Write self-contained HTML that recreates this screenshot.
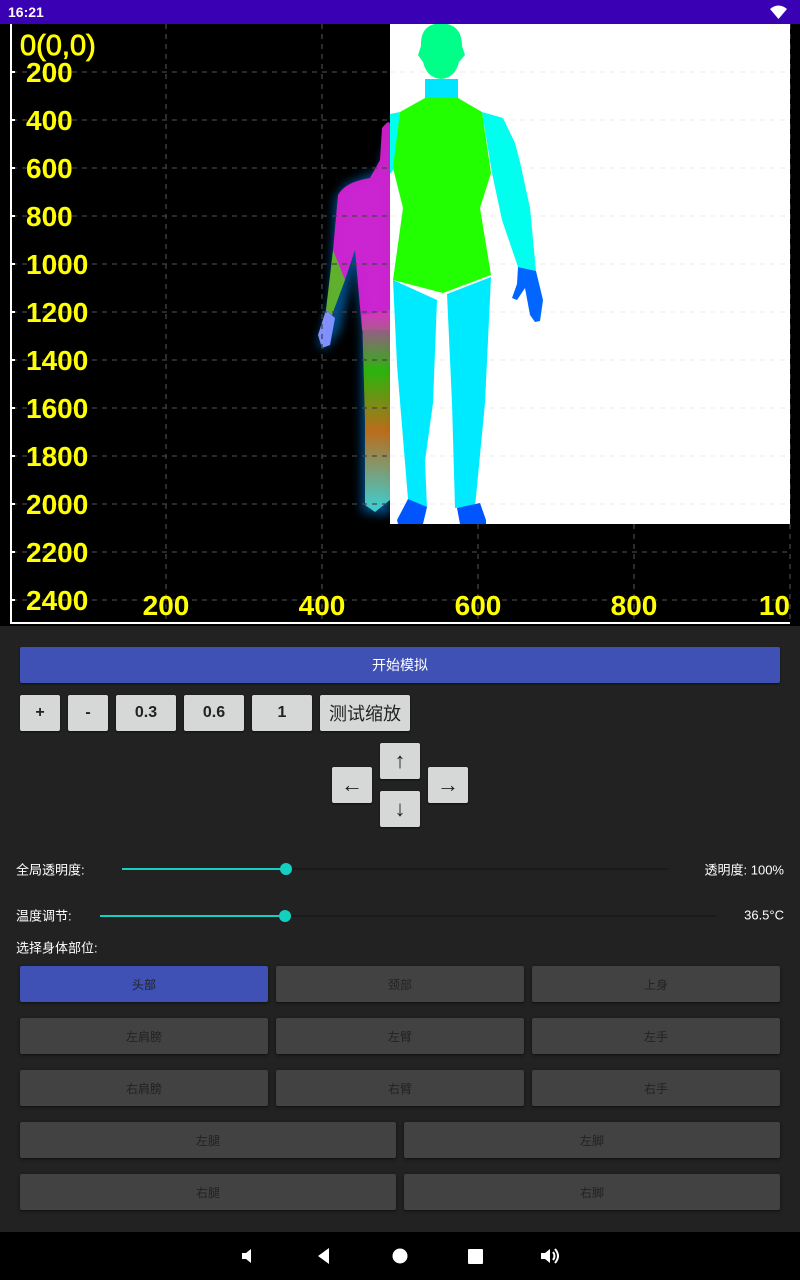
<!DOCTYPE html>
<html><head><meta charset="utf-8">
<style>
*{margin:0;padding:0;box-sizing:border-box}
body{width:800px;height:1280px;background:#222;position:relative;overflow:hidden;font-family:"Liberation Sans","Noto Sans CJK SC",sans-serif}
.abs{position:absolute}
.btn{position:absolute;background:#d6d7d7;color:#222;display:flex;align-items:center;justify-content:center;border-radius:2px;box-shadow:0 1px 2px rgba(0,0,0,.5);font-family:"Liberation Sans","Noto Sans CJK SC",sans-serif;font-weight:bold}
.part{position:absolute;background:#424242;color:#222;display:flex;align-items:center;justify-content:center;font-size:12px;border-radius:2px;box-shadow:0 1px 3px rgba(0,0,0,.6)}
.lbl{position:absolute;color:#fff;font-size:13px;transform:translateY(-50%)}
</style></head><body>
<div class="abs" style="left:0;top:0;width:800px;height:24px;background:#3a00b4">
  <span class="abs" style="left:8px;top:4px;color:#fff;font-size:14px;font-weight:bold">16:21</span>
  <svg class="abs" style="left:770px;top:5px" width="17" height="14" viewBox="0 0 17 14"><path d="M0 4 Q8.5 -3 17 4 L8.5 14Z" fill="#fff"/></svg>
</div>
<svg id="chart" class="abs" style="left:0;top:24px" width="800" height="602" viewBox="0 24 800 602">
  <defs>
    <clipPath id="cl"><rect x="0" y="24" width="791" height="602"/></clipPath>
    <filter id="glow" x="-50%" y="-20%" width="200%" height="140%"><feGaussianBlur stdDeviation="5"/></filter>
    <linearGradient id="legG" x1="0" y1="0" x2="0" y2="1"><stop offset="0" stop-color="#e030c8"/><stop offset=".3" stop-color="#30c000"/><stop offset=".6" stop-color="#d07010"/><stop offset="1" stop-color="#40e0e0"/></linearGradient>
  </defs>
  <rect x="0" y="24" width="800" height="602" fill="#000"/>
  <g id="figure-glow">
    <path d="M345 185 L380 170 L390 130 L390 515 L362 512 L362 330 L355 260 L340 330 L325 350 L318 345 L330 300 L335 200Z" fill="#0090ff" opacity=".55" filter="url(#glow)"/>
    <path d="M338 195 Q345 182 370 178 L380 160 L382 128 Q390 118 390 125 L390 330 L362 330 L355 250 L345 280 L338 285 L333 250Z" fill="#e020d8" opacity=".9"/>
    <path d="M333 250 L345 280 L332 315 L326 310Z" fill="#60b030"/>
    <path d="M326 310 L335 318 L330 345 L322 348 L318 335Z" fill="#8090ff"/>
    <path d="M362 315 L390 310 L390 500 L375 512 L365 505 L365 420Z" fill="url(#legG)" opacity=".9"/>
  </g>
  <g id="grid"></g>
  <g id="body">
    <rect x="390" y="24" width="400" height="500" fill="#fff"/>
    <g id="grid2" opacity=".06"></g>
    <path d="M441 23 Q462 24 462 46 L465 55 L459 62 Q455 78 441 79 Q427 78 423 62 L418 55 L421 46 Q420 24 441 23Z" fill="#00ff88"/>
    <rect x="425" y="79" width="33" height="20" fill="#00e5ff"/>
    <path d="M390 114 L400 112 L393 170 L390 174Z" fill="#00ffee"/>
    <path d="M482 112 L503 118 L515 143 L520 162 L530 208 L536 271 L518 267 L502 220 L492 173Z" fill="#00ffee"/>
    <path d="M518 267 L536 271 L543 300 L540 321 L535 322 L530 315 L525 288 L517 300 L512 298 L517 284Z" fill="#0066ff"/>
    <path d="M393 280 L437 300 L433 403 L425 461 L427 508 L408 499 L397 365Z" fill="#00eaff"/>
    <path d="M447 294 L491 277 L485 403 L475 507 L455 508 L452 403Z" fill="#00eaff"/>
    <path d="M400 112 L425 98 L458 98 L482 112 L491 173 L480 208 L491 275 L443 293 L393 280 L403 208 L393 168Z" fill="#22ff00"/>
    <path d="M408 499 L427 507 L423 524 L398 524 L397 520Z" fill="#0055ff"/>
    <path d="M457 508 L480 503 L486 520 L486 524 L460 524Z" fill="#0055ff"/>
  </g>
  <g id="axes"></g>
</svg>
<script>
const yTicks=[0,200,400,600,800,1000,1200,1400,1600,1800,2000,2200,2400];
const xTicks=[200,400,600,800,1000];
const xScale=v=>10+v*0.78;
const yScale=v=>24+v*0.24;
const NS='http://www.w3.org/2000/svg';
const grid=document.getElementById('grid'), grid2=document.getElementById('grid2'), axes=document.getElementById('axes');
function mk(tag,attrs,parent){const e=document.createElementNS(NS,tag);for(const k in attrs)e.setAttribute(k,attrs[k]);parent.appendChild(e);return e;}
yTicks.forEach(v=>{if(v===0)return;const y=yScale(v);
 const l=mk('line',{x1:12,x2:790,y1:y,y2:y,stroke:'#444','stroke-width':1.3,'stroke-dasharray':'5 5'},grid);
 
 
 const l2=mk('line',{x1:390,x2:790,y1:y,y2:y,stroke:'#000','stroke-width':1.3,'stroke-dasharray':'5 5'},grid2);
 
 
 const t=mk('line',{x1:11,x2:15,y1:y,y2:y,stroke:'#fff','stroke-width':2},axes);
 
 
 const tx=mk('text',{x:26,y:y+10,fill:'#ffff00','font-size':28,'font-weight':'bold','font-family':'Liberation Sans, sans-serif'},axes);
 tx.textContent=v;
 
 });
xTicks.forEach(v=>{const x=xScale(v);
 const l=mk('line',{x1:x,x2:x,y1:24,y2:622,stroke:'#444','stroke-width':1.3,'stroke-dasharray':'5 5'},grid);
 
 
 const g=mk('g',{'clip-path':'url(#cl)'},axes);
 const tx=mk('text',{x:x,y:615,fill:'#ffff00','font-size':28,'font-weight':'bold','text-anchor':'middle','font-family':'Liberation Sans, sans-serif'},g);
 tx.textContent=v;
 
 });
const ax=mk('path',{d:'M11 24 V623 H790',fill:'none',stroke:'#fff','stroke-width':2},axes);


const o=mk('text',{x:20,y:55,fill:'#ffff00','font-size':29,'font-family':'Liberation Sans, sans-serif','stroke':'#ffff00','stroke-width':0.8},axes);
o.textContent='0(0,0)';


</script>

<div class="btn" style="left:20px;top:647px;width:760px;height:36px;background:#3f51b5;color:#fff;font-weight:normal;font-size:14px">开始模拟</div>
<div class="btn" style="left:20px;top:695px;width:40px;height:36px;font-size:16px">+</div>
<div class="btn" style="left:68px;top:695px;width:40px;height:36px;font-size:16px">-</div>
<div class="btn" style="left:116px;top:695px;width:60px;height:36px;font-size:16px">0.3</div>
<div class="btn" style="left:184px;top:695px;width:60px;height:36px;font-size:16px">0.6</div>
<div class="btn" style="left:252px;top:695px;width:60px;height:36px;font-size:16px">1</div>
<div class="btn" style="left:320px;top:695px;width:90px;height:36px;font-size:18px;font-weight:normal">测试缩放</div>
<div class="btn" style="left:380px;top:743px;width:40px;height:36px;font-size:22px;font-weight:normal">↑</div>
<div class="btn" style="left:332px;top:767px;width:40px;height:36px;font-size:22px;font-weight:normal">←</div>
<div class="btn" style="left:428px;top:767px;width:40px;height:36px;font-size:22px;font-weight:normal">→</div>
<div class="btn" style="left:380px;top:791px;width:40px;height:36px;font-size:22px;font-weight:normal">↓</div>

<div class="lbl" style="left:16px;top:869px">全局透明度:</div>
<div class="abs" style="left:122px;top:868px;width:546px;height:2px;background:#1a1a1a"></div>
<div class="abs" style="left:122px;top:868px;width:164px;height:2px;background:#14d0c0"></div>
<div class="abs" style="left:280px;top:863px;width:12px;height:12px;border-radius:50%;background:#14d0c0"></div>
<div class="lbl" style="right:16px;top:869px">透明度: 100%</div>

<div class="lbl" style="left:16px;top:915px">温度调节:</div>
<div class="abs" style="left:100px;top:915px;width:616px;height:2px;background:#1a1a1a"></div>
<div class="abs" style="left:100px;top:915px;width:185px;height:2px;background:#14d0c0"></div>
<div class="abs" style="left:279px;top:910px;width:12px;height:12px;border-radius:50%;background:#14d0c0"></div>
<div class="lbl" style="right:16px;top:915px">36.5°C</div>

<div class="lbl" style="left:16px;top:947px">选择身体部位:</div>
<div class="part" style="left:20px;top:966px;width:248px;height:36px;background:#3f51b5">头部</div>
<div class="part" style="left:276px;top:966px;width:248px;height:36px">颈部</div>
<div class="part" style="left:532px;top:966px;width:248px;height:36px">上身</div>
<div class="part" style="left:20px;top:1018px;width:248px;height:36px">左肩膀</div>
<div class="part" style="left:276px;top:1018px;width:248px;height:36px">左臂</div>
<div class="part" style="left:532px;top:1018px;width:248px;height:36px">左手</div>
<div class="part" style="left:20px;top:1070px;width:248px;height:36px">右肩膀</div>
<div class="part" style="left:276px;top:1070px;width:248px;height:36px">右臂</div>
<div class="part" style="left:532px;top:1070px;width:248px;height:36px">右手</div>
<div class="part" style="left:20px;top:1122px;width:376px;height:36px">左腿</div>
<div class="part" style="left:404px;top:1122px;width:376px;height:36px">左脚</div>
<div class="part" style="left:20px;top:1174px;width:376px;height:36px">右腿</div>
<div class="part" style="left:404px;top:1174px;width:376px;height:36px">右脚</div>

<div class="abs" style="left:0;top:1232px;width:800px;height:48px;background:#000">
  <svg class="abs" style="left:240px;top:14px" width="20" height="20"><path d="M2 7h4l5-4v14l-5-4H2z" fill="#fff"/></svg>
  <svg class="abs" style="left:315px;top:14px" width="20" height="20"><path d="M14 2v16L3 10z" fill="#fff"/></svg>
  <svg class="abs" style="left:390px;top:14px" width="20" height="20"><circle cx="10" cy="10" r="7.5" fill="#fff"/></svg>
  <svg class="abs" style="left:465px;top:14px" width="20" height="20"><rect x="3" y="3" width="15" height="15" rx="1" fill="#fff"/></svg>
  <svg class="abs" style="left:540px;top:14px" width="20" height="20"><path d="M1 7h4l5-4v14l-5-4H1z" fill="#fff"/><path d="M13 6q3 4 0 8M15 3q6 7 0 14" stroke="#fff" stroke-width="2" fill="none"/></svg>
</div>
</body></html>
